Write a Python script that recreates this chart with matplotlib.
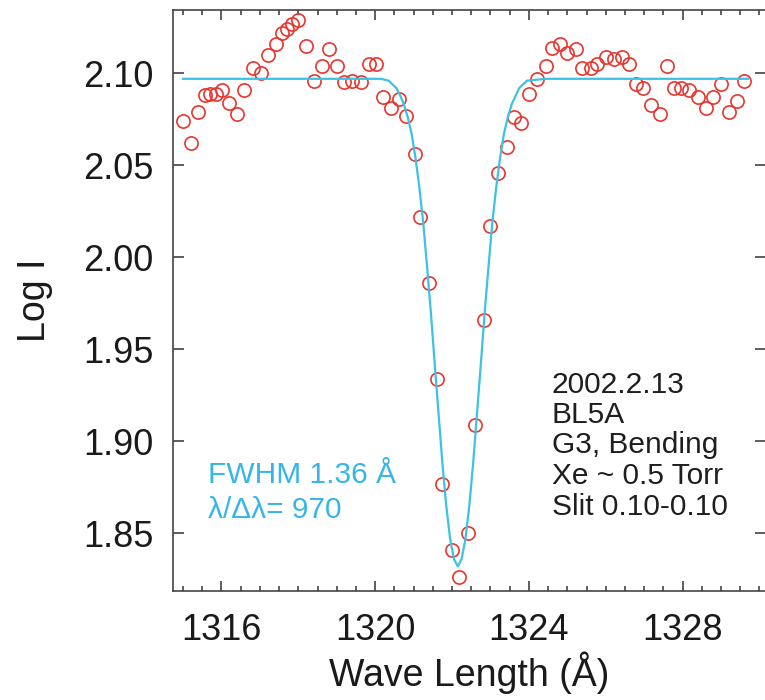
import matplotlib
matplotlib.use("Agg")
import matplotlib.pyplot as plt
from matplotlib.ticker import MultipleLocator

plt.rcParams['font.family'] = ['Liberation Sans', 'DejaVu Sans']

# measured spectrum (wavelength in Angstrom, log intensity)
wave = [1315.00, 1315.20, 1315.40, 1315.57, 1315.70, 1315.87, 1316.02, 1316.19,
        1316.41, 1316.60, 1316.83, 1317.02, 1317.22, 1317.41, 1317.58, 1317.71,
        1317.84, 1317.99, 1318.19, 1318.41, 1318.62, 1318.81, 1319.01, 1319.18,
        1319.40, 1319.62, 1319.84, 1320.01, 1320.20, 1320.40, 1320.62, 1320.81,
        1321.03, 1321.18, 1321.40, 1321.60, 1321.75, 1321.99, 1322.18, 1322.41,
        1322.60, 1322.82, 1323.00, 1323.19, 1323.44, 1323.61, 1323.79, 1324.00,
        1324.20, 1324.44, 1324.61, 1324.81, 1325.00, 1325.22, 1325.39, 1325.61,
        1325.78, 1326.00, 1326.22, 1326.43, 1326.61, 1326.78, 1326.98, 1327.17,
        1327.41, 1327.59, 1327.78, 1327.95, 1328.17, 1328.39, 1328.60, 1328.80,
        1328.99, 1329.21, 1329.41, 1329.60]
log_i = [2.074, 2.062, 2.079, 2.088, 2.089, 2.089, 2.091, 2.084,
         2.078, 2.091, 2.103, 2.100, 2.110, 2.116, 2.122, 2.124,
         2.127, 2.129, 2.115, 2.096, 2.104, 2.113, 2.104, 2.095,
         2.096, 2.095, 2.105, 2.105, 2.087, 2.081, 2.086, 2.077,
         2.056, 2.022, 1.986, 1.934, 1.877, 1.841, 1.826, 1.850,
         1.909, 1.966, 2.017, 2.046, 2.060, 2.076, 2.073, 2.089,
         2.097, 2.104, 2.114, 2.116, 2.111, 2.113, 2.103, 2.103,
         2.105, 2.109, 2.108, 2.109, 2.105, 2.094, 2.092, 2.083,
         2.078, 2.104, 2.092, 2.092, 2.091, 2.087, 2.081, 2.087,
         2.094, 2.079, 2.085, 2.096]

# fitted line profile
fit_wave = [1315.00, 1319.85, 1320.15, 1320.35, 1320.55, 1320.65, 1320.75, 1320.85,
            1320.95, 1321.05, 1321.15, 1321.25, 1321.35, 1321.45, 1321.55, 1321.65,
            1321.75, 1321.85, 1321.95, 1322.05, 1322.15, 1322.25, 1322.35, 1322.45,
            1322.55, 1322.65, 1322.75, 1322.85, 1322.95, 1323.05, 1323.15, 1323.25,
            1323.35, 1323.45, 1323.55, 1323.75, 1323.95, 1324.45, 1329.70]
fit_log_i = [2.097, 2.097, 2.097, 2.096, 2.092, 2.088, 2.083, 2.076,
             2.067, 2.054, 2.038, 2.019, 1.995, 1.970, 1.942, 1.915,
             1.888, 1.865, 1.847, 1.836, 1.832, 1.836, 1.847, 1.865,
             1.888, 1.915, 1.942, 1.970, 1.995, 2.019, 2.038, 2.054,
             2.067, 2.076, 2.083, 2.092, 2.096, 2.097, 2.097]

info_lines = ["2002.2.13", "BL5A", "G3, Bending", "Xe ~ 0.5 Torr", "Slit 0.10-0.10"]
fit_lines = ["FWHM 1.36 Å", "λ/Δλ= 970"]

fig = plt.figure(figsize=(7.65, 7.0), dpi=100)
ax = fig.add_axes([173 / 765, 1 - 591 / 700, (766 - 173) / 765, 581 / 700])

ax.plot(wave, log_i, 'o', mfc='none', mec='#e8352d', ms=9.5, mew=1.2, zorder=2)
ax.plot(fit_wave, fit_log_i, '-', color='#3cc3e4', lw=1.6, zorder=3)

ax.set_xlim(1314.74, 1330.17)
ax.set_ylim(1.8186, 2.1344)
ax.xaxis.set_major_locator(MultipleLocator(4))
ax.xaxis.set_minor_locator(MultipleLocator(0.5))
ax.yaxis.set_major_locator(MultipleLocator(0.05))
ax.yaxis.set_major_formatter(matplotlib.ticker.FormatStrFormatter('%.2f'))

ax.tick_params(axis='both', which='both', direction='in', top=True, right=True,
               color='#333333', width=1.1, labelsize=26, labelcolor='#1a1a1a')
ax.tick_params(axis='x', which='major', length=7.5, pad=16)
ax.tick_params(axis='x', which='minor', length=3.8)
ax.tick_params(axis='y', which='major', length=8, pad=14)
for s in ax.spines.values():
    s.set_color('#444444')
    s.set_linewidth(1.2)

ax.set_xlabel("Wave Length (Å)", fontsize=27, color='#1a1a1a', labelpad=2)
ax.set_ylabel("Log I", fontsize=27, color='#1a1a1a', labelpad=22)

# annotation blocks
info_y = [0.3408, 0.2892, 0.2375, 0.1842, 0.1308]
for txt, yy in zip(info_lines, info_y):
    ax.text(0.6386, yy, txt, transform=ax.transAxes, fontsize=21.5,
            color='#1e1e1e', va='baseline', ha='left')
fit_y = [0.1859, 0.1256]
for txt, yy in zip(fit_lines, fit_y):
    ax.text(0.0595, yy, txt, transform=ax.transAxes, fontsize=21.5,
            color='#36b6e6', va='baseline', ha='left')

fig.savefig("out.png", dpi=100)
